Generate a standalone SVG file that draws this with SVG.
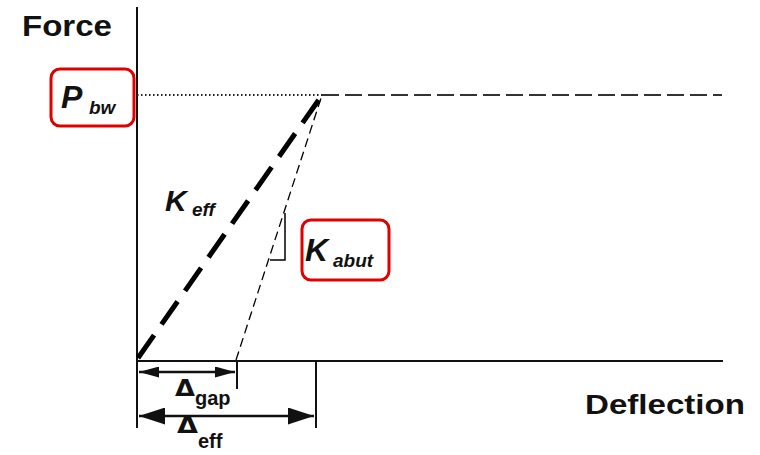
<svg xmlns="http://www.w3.org/2000/svg" width="760" height="455" viewBox="0 0 760 455">
<defs>
<style>
.ax{stroke:#111;stroke-width:2;fill:none}
.t{font-family:"Liberation Sans",Arial,sans-serif;font-weight:bold;fill:#111}
.d{font-family:"DejaVu Sans",sans-serif;font-weight:bold;fill:#111}
.i{font-style:italic}
.box{fill:none;stroke:#e00000;stroke-width:3}
</style>
<marker id="ah" viewBox="0 0 10 10" refX="10" refY="5" markerWidth="20" markerHeight="11" markerUnits="userSpaceOnUse" orient="auto-start-reverse" preserveAspectRatio="none"><path d="M0,0 L10,5 L0,10 Z" fill="#111"/></marker>
<marker id="ah2" viewBox="0 0 10 10" refX="10" refY="5" markerWidth="26" markerHeight="17" markerUnits="userSpaceOnUse" orient="auto-start-reverse" preserveAspectRatio="none"><path d="M0,0 L10,5 L0,10 Z" fill="#111"/></marker>
</defs>
<rect width="760" height="455" fill="#fff"/>
<g id="axes">
<line class="ax" x1="137" y1="7" x2="137" y2="362"/>
<line class="ax" x1="136" y1="361" x2="723" y2="361"/>
</g>
<g id="connectors">
<line x1="137" y1="95" x2="322" y2="95" stroke="#222" stroke-width="1.8" stroke-dasharray="1.5,2.5"/>
<line x1="322" y1="95" x2="722" y2="95" stroke="#333" stroke-width="2" stroke-dasharray="17,6"/>
<line x1="138" y1="358" x2="320" y2="98" stroke="#000" stroke-width="5" stroke-dasharray="28,13"/>
<line x1="236" y1="360" x2="322" y2="95" stroke="#000" stroke-width="1.3" stroke-dasharray="9,5"/>
<polyline points="285,213 285,260 270,260" fill="none" stroke="#000" stroke-width="1.5"/>
<line class="ax" x1="137" y1="362" x2="137" y2="428"/>
<line class="ax" x1="237" y1="362" x2="237" y2="389"/>
<line class="ax" x1="316" y1="362" x2="316" y2="428"/>
<line x1="139" y1="372" x2="235" y2="372" stroke="#111" stroke-width="2.5" marker-start="url(#ah)" marker-end="url(#ah)"/>
<line x1="139" y1="416" x2="314" y2="416" stroke="#111" stroke-width="2.5" marker-start="url(#ah2)" marker-end="url(#ah2)"/>
</g>
<g id="force-label"><text class="t" x="22" y="36" font-size="29" textLength="90" lengthAdjust="spacingAndGlyphs">Force</text></g>
<g id="deflection-label"><text class="t" x="585" y="414" font-size="27" textLength="160" lengthAdjust="spacingAndGlyphs">Deflection</text></g>
<g id="pbw">
<rect class="box" x="51" y="69" width="83" height="57" rx="9"/>
<text class="t i" x="61" y="108" font-size="32">P</text>
<text class="t i" x="89" y="114" font-size="19">bw</text>
</g>
<g id="keff">
<text class="t i" x="165" y="211" font-size="30">K</text>
<text class="t i" x="192" y="216" font-size="19">eff</text>
</g>
<g id="kabut">
<rect class="box" x="302" y="220" width="87" height="60" rx="9"/>
<text class="t i" x="305" y="261" font-size="32">K</text>
<text class="t i" x="333" y="267" font-size="19">abut</text>
</g>
<g id="dgap">
<text class="d" x="175" y="396" font-size="23" textLength="20" lengthAdjust="spacingAndGlyphs">Δ</text>
<text class="t" x="195" y="405" font-size="20">gap</text>
</g>
<g id="deff">
<text class="d" x="177" y="433" font-size="23" textLength="21" lengthAdjust="spacingAndGlyphs">Δ</text>
<text class="t" x="198" y="448" font-size="20">eff</text>
</g>
</svg>
